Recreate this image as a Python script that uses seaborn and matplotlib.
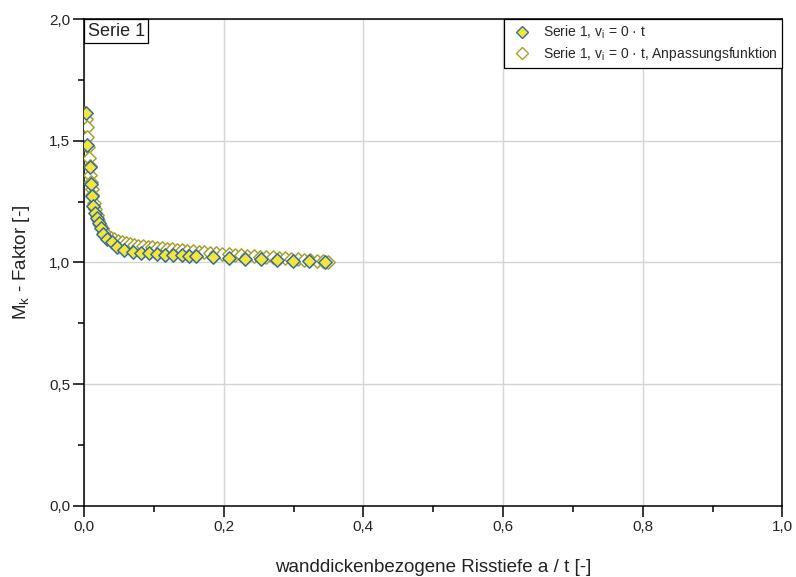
import matplotlib
matplotlib.use("Agg")
import matplotlib.pyplot as plt
import seaborn as sns
import pandas as pd
from matplotlib.offsetbox import AnchoredText
from matplotlib.lines import Line2D

# Data series (measured)
data_x = [0.0024, 0.005, 0.0086, 0.010, 0.0119, 0.0133, 0.016, 0.018, 0.021, 0.0238,
          0.0276, 0.0324, 0.0396, 0.0467, 0.0576, 0.0695, 0.081, 0.093, 0.105, 0.116,
          0.128, 0.140, 0.150, 0.161, 0.184, 0.207, 0.230, 0.253, 0.276, 0.299, 0.322, 0.345]
data_y = [1.612, 1.482, 1.390, 1.320, 1.272, 1.231, 1.201, 1.181, 1.160, 1.142,
          1.116, 1.097, 1.082, 1.064, 1.051, 1.044, 1.039, 1.037, 1.034, 1.031,
          1.030, 1.029, 1.028, 1.026, 1.023, 1.019, 1.015, 1.012, 1.010, 1.007, 1.004, 1.002]

# Fitted function series
fit_x = [0.002, 0.003, 0.004, 0.005, 0.006, 0.007, 0.008, 0.009, 0.010, 0.011,
         0.012, 0.014, 0.016, 0.018, 0.020, 0.023, 0.026, 0.029, 0.033, 0.038,
         0.043, 0.048, 0.054, 0.060, 0.066, 0.072, 0.078, 0.084, 0.091, 0.098,
         0.105, 0.112, 0.119, 0.126, 0.133, 0.140, 0.148, 0.156, 0.164, 0.172,
         0.180, 0.189, 0.198, 0.207, 0.216, 0.225, 0.234, 0.243, 0.252, 0.261,
         0.270, 0.279, 0.288, 0.297, 0.306, 0.315, 0.324, 0.333, 0.342, 0.350]
fit_y = [1.615, 1.590, 1.555, 1.515, 1.475, 1.430, 1.395, 1.360, 1.330, 1.300,
         1.275, 1.245, 1.220, 1.195, 1.175, 1.155, 1.140, 1.125, 1.112, 1.102,
         1.094, 1.088, 1.083, 1.079, 1.075, 1.072, 1.069, 1.066, 1.064, 1.062,
         1.060, 1.058, 1.056, 1.054, 1.052, 1.050, 1.048, 1.046, 1.044, 1.042,
         1.040, 1.038, 1.036, 1.034, 1.032, 1.030, 1.028, 1.026, 1.024, 1.022,
         1.020, 1.018, 1.016, 1.014, 1.012, 1.010, 1.008, 1.006, 1.004, 1.002]

x_ticks = [0.0, 0.2, 0.4, 0.6, 0.8, 1.0]
x_ticklabels = ["0,0", "0,2", "0,4", "0,6", "0,8", "1,0"]
y_ticks = [0.0, 0.5, 1.0, 1.5, 2.0]
y_ticklabels = ["0,0", "0,5", "1,0", "1,5", "2,0"]

label_data = "Serie 1, v$_\\mathrm{i}$ = 0 · t"
label_fit = "Serie 1, v$_\\mathrm{i}$ = 0 · t, Anpassungsfunktion"

sns.set_theme(style="white")
plt.rcParams["font.family"] = ["Liberation Sans", "DejaVu Sans"]
plt.rcParams["mathtext.fontset"] = "custom"
plt.rcParams["mathtext.rm"] = "Liberation Sans"
plt.rcParams["mathtext.it"] = "Liberation Sans:italic"

fig = plt.figure(figsize=(7.96, 5.77), dpi=100)
ax = fig.add_axes([0.1055, 0.1236, 0.983 - 0.1055, 0.967 - 0.1236])

face_c = "#f2e63e"
edge_c = "#3a6c94"
fit_c = "#a6a133"

df_fit = pd.DataFrame({"x": fit_x, "y": fit_y})
df_data = pd.DataFrame({"x": data_x, "y": data_y})

sns.scatterplot(data=df_fit, x="x", y="y", ax=ax, marker="D", s=46,
                facecolor="white", edgecolor=fit_c, linewidth=1.1, zorder=3, legend=False)
sns.scatterplot(data=df_data, x="x", y="y", ax=ax, marker="D", s=46,
                facecolor=face_c, edgecolor=edge_c, linewidth=1.1, zorder=4, legend=False)

ax.set_xlim(0, 1.0)
ax.set_ylim(0, 2.0)
ax.set_xticks(x_ticks)
ax.set_xticklabels(x_ticklabels)
ax.set_yticks(y_ticks)
ax.set_yticklabels(y_ticklabels)
ax.set_xticks([0.1, 0.3, 0.5, 0.7, 0.9], minor=True)
ax.set_yticks([0.25, 0.75, 1.25, 1.75], minor=True)
ax.tick_params(which="major", direction="out", length=8, width=1.1, color="black",
               labelsize=11, labelcolor="#222222", left=True, bottom=True, pad=2)
ax.tick_params(which="minor", direction="out", length=4, width=1.1, color="black",
               left=True, bottom=True)
ax.grid(True, which="major", color="#d4d4d4", linewidth=1.0)
ax.set_axisbelow(True)
for sp in ax.spines.values():
    sp.set_visible(True)
    sp.set_color("black")
    sp.set_linewidth(1.1)

ax.set_xlabel("wanddickenbezogene Risstiefe a / t [-]", fontsize=13.5, color="#222222", labelpad=18)
ax.set_ylabel("M$_\\mathrm{k}$ - Faktor [-]", fontsize=13.5, color="#222222", labelpad=12)

handles = [
    Line2D([], [], linestyle="none", marker="D", markersize=6, markerfacecolor=face_c,
           markeredgecolor=edge_c, markeredgewidth=1.0),
    Line2D([], [], linestyle="none", marker="D", markersize=6, markerfacecolor="white",
           markeredgecolor=fit_c, markeredgewidth=1.0),
]
leg = ax.legend(handles, [label_data, label_fit], loc="upper right", borderaxespad=0,
                fontsize=10, frameon=True, fancybox=False, edgecolor="black",
                handlelength=2.0, handletextpad=0.5, borderpad=0.32, labelspacing=0.32)
leg.get_frame().set_linewidth(0.9)
leg.get_frame().set_alpha(1)

at = AnchoredText("Serie 1", loc="upper left", prop=dict(size=13, color="#222222"),
                  frameon=True, borderpad=0, pad=0.2)
at.patch.set_edgecolor("black")
at.patch.set_linewidth(0.9)
at.patch.set_boxstyle("square,pad=0")
ax.add_artist(at)

fig.savefig("out.png", dpi=100)
